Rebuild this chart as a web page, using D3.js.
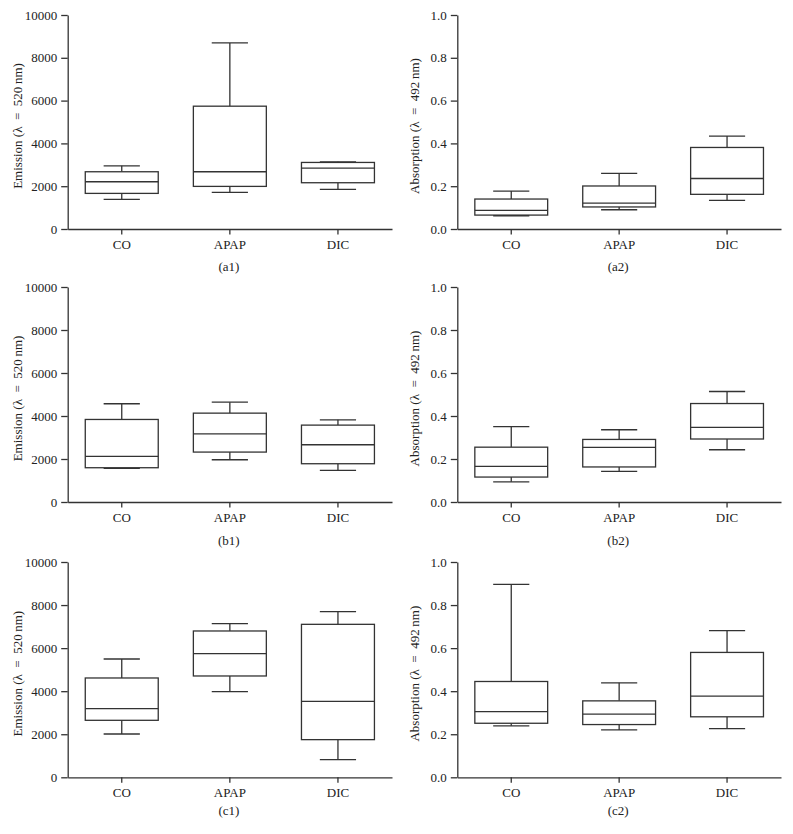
<!DOCTYPE html>
<html>
<head>
<meta charset="utf-8">
<script src="https://cdn.jsdelivr.net/npm/d3@7/dist/d3.min.js"></script>
<style>
  html, body { margin: 0; padding: 0; background: #fff; }
  svg { display: block; }
  text { font-family: "Liberation Serif", "Times New Roman", serif; fill: #222; }
</style>
</head>
<body>
<div id="chart"></div>
<script>
// ---- Data ----
const categories = ["CO", "APAP", "DIC"];
// each entry: [min, q1, median, q3, max]
const a1Stats = [[1384, 1664, 2208, 2675, 2950], [1711, 1991, 2675, 5739, 8693], [1851, 2162, 2846, 3110, 3141]];
const a2Stats = [[0.062, 0.065, 0.087, 0.140, 0.177], [0.090, 0.103, 0.121, 0.201, 0.260], [0.134, 0.162, 0.236, 0.381, 0.434]];
const b1Stats = [[1563, 1594, 2121, 3839, 4570], [1966, 2322, 3173, 4133, 4644], [1471, 1780, 2663, 3576, 3824]];
const b2Stats = [[0.094, 0.116, 0.166, 0.255, 0.351], [0.142, 0.163, 0.254, 0.291, 0.336], [0.243, 0.293, 0.347, 0.458, 0.514]];
const c1Stats = [[2012, 2647, 3189, 4613, 5495], [3978, 4706, 5743, 6796, 7136], [820, 1749, 3529, 7105, 7693]];
const c2Stats = [[0.239, 0.251, 0.305, 0.445, 0.896], [0.220, 0.245, 0.293, 0.355, 0.439], [0.226, 0.281, 0.377, 0.580, 0.681]];
const emissionTicks = [0, 2000, 4000, 6000, 8000, 10000];
const absorptionTicks = [0, 0.2, 0.4, 0.6, 0.8, 1.0];
const emissionLabel = "Emission (\u03BB\u2002=\u2002520\u2009nm)";
const absorptionLabel = "Absorption (\u03BB\u2002=\u2002492\u2009nm)";
const panelLabels = ["(a1)", "(a2)", "(b1)", "(b2)", "(c1)", "(c2)"];

// ---- Layout ----
const W = 793, H = 834;
const cols = [{x0: 67.7, x1: 392}, {x0: 457.3, x1: 781}];
const rows = [{top: 15, bottom: 229, lab: 42}, {top: 287, bottom: 502, lab: 43}, {top: 562, bottom: 777.3, lab: 38}];
const panels = [
  {stats: a1Stats, r: 0, c: 0, max: 10000, ticks: emissionTicks, fmt: d => d3.format("d")(d), ylab: emissionLabel},
  {stats: a2Stats, r: 0, c: 1, max: 1.0, ticks: absorptionTicks, fmt: d3.format(".1f"), ylab: absorptionLabel},
  {stats: b1Stats, r: 1, c: 0, max: 10000, ticks: emissionTicks, fmt: d => d3.format("d")(d), ylab: emissionLabel},
  {stats: b2Stats, r: 1, c: 1, max: 1.0, ticks: absorptionTicks, fmt: d3.format(".1f"), ylab: absorptionLabel},
  {stats: c1Stats, r: 2, c: 0, max: 10000, ticks: emissionTicks, fmt: d => d3.format("d")(d), ylab: emissionLabel},
  {stats: c2Stats, r: 2, c: 1, max: 1.0, ticks: absorptionTicks, fmt: d3.format(".1f"), ylab: absorptionLabel}
];

const stroke = "#333";
const svg = d3.select("#chart").append("svg").attr("width", W).attr("height", H);

panels.forEach((p, i) => {
  const col = cols[p.c], row = rows[p.r];
  const x = d3.scaleBand().domain(categories).range([col.x0, col.x1]).paddingInner(0).paddingOuter(0);
  const y = d3.scaleLinear().domain([0, p.max]).range([row.bottom, row.top]);
  const g = svg.append("g");
  const bw = x.bandwidth();
  const boxW = bw * 0.675, capW = bw * 0.335;

  // Y axis
  const yAx = g.append("g").attr("transform", `translate(${col.x0},0)`)
    .call(d3.axisLeft(y).tickValues(p.ticks).tickFormat(p.fmt).tickSize(6.5).tickSizeOuter(0).tickPadding(4));
  yAx.select(".domain").attr("stroke", stroke).attr("stroke-width", 1.3);
  yAx.selectAll(".tick line").attr("stroke", stroke).attr("stroke-width", 1.3);
  yAx.selectAll(".tick text").style("font-size", "13px").attr("fill", "#222")
     .style("font-family", "'Liberation Serif', serif");

  // X axis
  const xAx = g.append("g").attr("transform", `translate(0,${row.bottom})`)
    .call(d3.axisBottom(x).tickSize(5.5).tickSizeOuter(0).tickPadding(5));
  xAx.select(".domain").attr("stroke", stroke).attr("stroke-width", 1.3);
  xAx.selectAll(".tick line").attr("stroke", stroke).attr("stroke-width", 1.3);
  xAx.selectAll(".tick text").style("font-size", "13px").attr("fill", "#222")
     .style("font-family", "'Liberation Serif', serif");

  // Y label
  const yMid = (row.top + row.bottom) / 2 + 4;
  g.append("text")
    .attr("transform", `translate(${col.x0 - (p.c === 0 ? 46 : 38)},${yMid}) rotate(-90)`)
    .attr("text-anchor", "middle")
    .style("font-size", "13px")
    .text(p.ylab);

  // Panel label
  g.append("text")
    .attr("x", x("APAP") + bw / 2 - 1)
    .attr("y", row.bottom + row.lab)
    .attr("text-anchor", "middle")
    .style("font-size", "13px")
    .text(panelLabels[i]);

  // Boxes
  const boxes = g.selectAll(".box").data(categories.map((c, k) => ({c, s: p.stats[k]})))
    .enter().append("g").attr("class", "box");
  const cx = d => x(d.c) + bw / 2;
  // whiskers
  boxes.append("line").attr("x1", cx).attr("x2", cx)
    .attr("y1", d => y(d.s[3])).attr("y2", d => y(d.s[4]))
    .attr("stroke", stroke).attr("stroke-width", 1.3);
  boxes.append("line").attr("x1", cx).attr("x2", cx)
    .attr("y1", d => y(d.s[1])).attr("y2", d => y(d.s[0]))
    .attr("stroke", stroke).attr("stroke-width", 1.3);
  // caps
  [0, 4].forEach(idx => {
    boxes.append("line")
      .attr("x1", d => cx(d) - capW / 2).attr("x2", d => cx(d) + capW / 2)
      .attr("y1", d => y(d.s[idx])).attr("y2", d => y(d.s[idx]))
      .attr("stroke", stroke).attr("stroke-width", 1.3);
  });
  // box
  boxes.append("rect")
    .attr("x", d => cx(d) - boxW / 2).attr("width", boxW)
    .attr("y", d => y(d.s[3])).attr("height", d => y(d.s[1]) - y(d.s[3]))
    .attr("fill", "#fff").attr("stroke", stroke).attr("stroke-width", 1.3);
  // median
  boxes.append("line")
    .attr("x1", d => cx(d) - boxW / 2).attr("x2", d => cx(d) + boxW / 2)
    .attr("y1", d => y(d.s[2])).attr("y2", d => y(d.s[2]))
    .attr("stroke", stroke).attr("stroke-width", 1.3);
});
</script>
</body>
</html>
